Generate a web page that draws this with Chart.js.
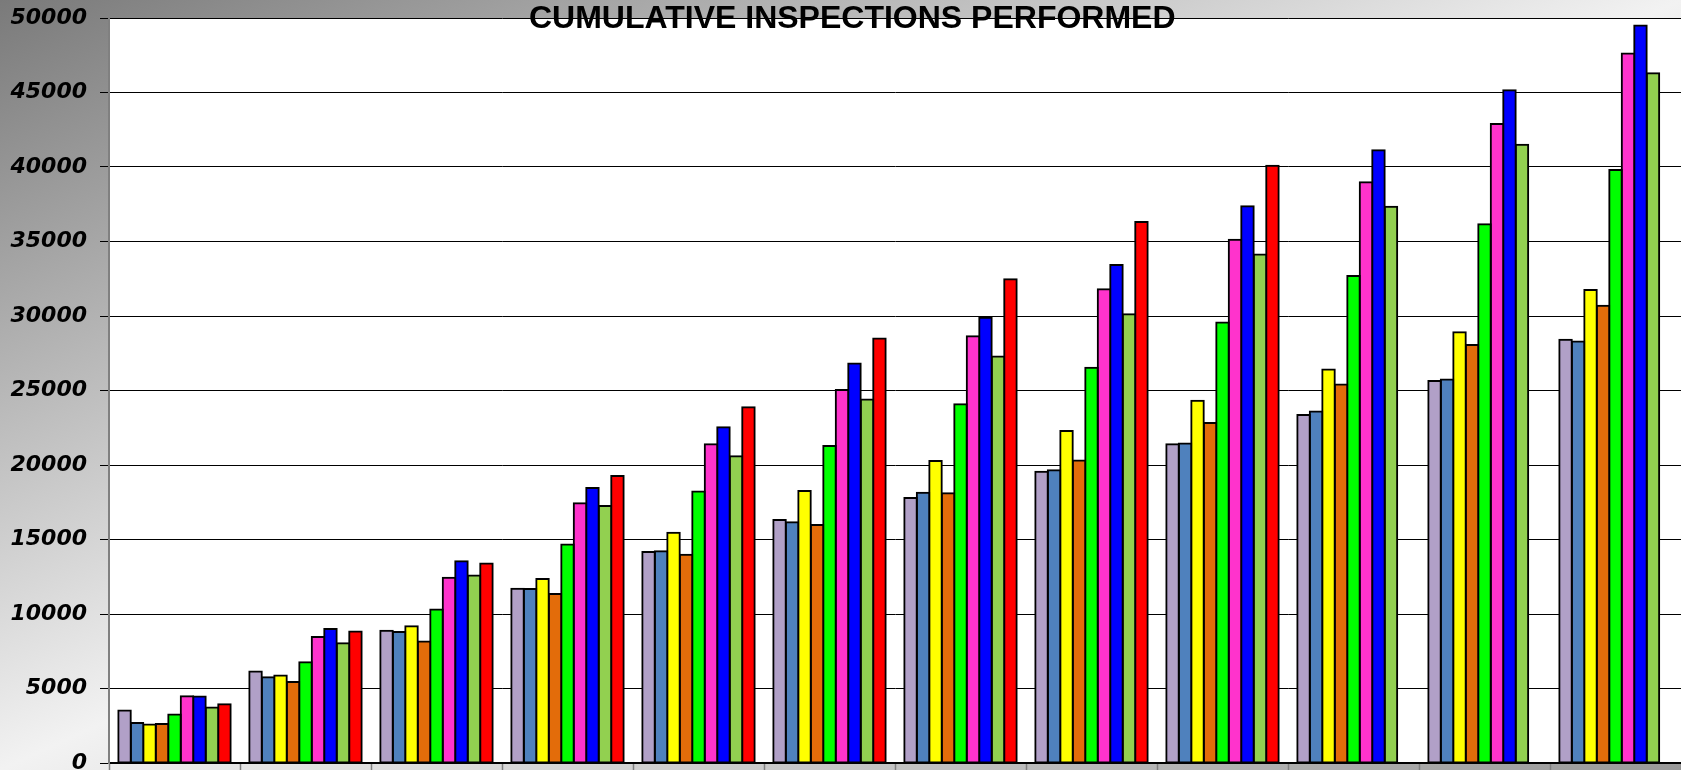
<!DOCTYPE html>
<html>
<head>
<meta charset="utf-8">
<script src="https://cdn.jsdelivr.net/npm/chart.js@4.4.1/dist/chart.umd.min.js"></script>
<style>
html, body { margin: 0; padding: 0; overflow: hidden; width: 1681px; height: 770px; background: #ccc; }
#wrap { position: absolute; left: 0; top: 0; width: 1681px; height: 800px; }
</style>
</head>
<body>
<div id="wrap"><canvas id="c"></canvas></div>
<script>
const chartTitle = 'CUMULATIVE INSPECTIONS PERFORMED';
const categories = ['JUL', 'AUG', 'SEP', 'OCT', 'NOV', 'DEC', 'JAN', 'FEB', 'MAR', 'APR', 'MAY', 'JUN'];
const seriesLabels = ['Series 1', 'Series 2', 'Series 3', 'Series 4', 'Series 5', 'Series 6', 'Series 7', 'Series 8', 'Series 9'];
const seriesColors = ['#B1A0C7', '#4F81BD', '#FFFF00', '#E36C0A', '#00FF00', '#FF33CC', '#0000FF', '#92D050', '#FF0000'];

const series1 = [3520, 6140, 8880, 11700, 14160, 16310, 17790, 19550, 21390, 23350, 25630, 28400];
const series2 = [2690, 5760, 8790, 11680, 14210, 16160, 18140, 19640, 21450, 23590, 25740, 28290];
const series3 = [2580, 5870, 9170, 12350, 15460, 18260, 20270, 22280, 24320, 26410, 28910, 31750];
const series4 = [2620, 5430, 8160, 11340, 13980, 15980, 18100, 20310, 22820, 25400, 28060, 30680];
const series5 = [3250, 6770, 10310, 14660, 18220, 21280, 24070, 26530, 29570, 32690, 36160, 39800];
const series6 = [4480, 8450, 12440, 17430, 21390, 25040, 28640, 31790, 35120, 38980, 42890, 47610];
const series7 = [4470, 8990, 13540, 18460, 22540, 26810, 29890, 33420, 37360, 41120, 45150, 49490];
const series8 = [3720, 8030, 12580, 17250, 20590, 24390, 27290, 30110, 34120, 37340, 41500, 46290];
const series9 = [3950, 8830, 13390, 19270, 23880, 28490, 32460, 36310, 40090, null, null, null];

const yMin = 0;
const yMax = 50000;
const yStep = 5000;

const allSeries = [series1, series2, series3, series4, series5, series6, series7, series8, series9];

const datasets = allSeries.map((vals, i) => ({
  label: seriesLabels[i],
  data: vals,
  backgroundColor: seriesColors[i],
  borderColor: '#000000',
  borderWidth: 2,
  borderSkipped: false,
  inflateAmount: 1,
  categoryPercentage: 0.858,
  barPercentage: 1.0
}));

const bgPlugin = {
  id: 'bgPlugin',
  beforeDraw(chart) {
    const { ctx, chartArea: a } = chart;
    ctx.save();
    const g = ctx.createLinearGradient(0, 0, 583, 1273);
    g.addColorStop(0, '#7a7a7a');
    g.addColorStop(0.5, '#f2f2f2');
    g.addColorStop(1, '#999999');
    ctx.fillStyle = g;
    ctx.fillRect(0, 0, chart.width, chart.height);
    ctx.fillStyle = '#ffffff';
    ctx.fillRect(a.left, a.top, a.right - a.left, a.bottom - a.top);
    ctx.restore();
  }
};

const titlePlugin = {
  id: 'titlePlugin',
  afterDraw(chart) {
    const ctx = chart.ctx;
    ctx.save();
    ctx.font = 'bold 32px "Liberation Sans", Arial, sans-serif';
    ctx.textAlign = 'center';
    ctx.textBaseline = 'alphabetic';
    ctx.fillStyle = '#000000';
    ctx.fillText(chartTitle, chart.width * 0.507, 28);
    ctx.restore();
  }
};

new Chart(document.getElementById('c'), {
  type: 'bar',
  data: { labels: categories, datasets: datasets },
  options: {
    responsive: true,
    maintainAspectRatio: false,
    animation: false,
    layout: { padding: { top: 18, left: 0, right: 0, bottom: 0 } },
    plugins: {
      legend: { display: false },
      title: { display: false },
      tooltip: { enabled: false }
    },
    scales: {
      x: {
        afterFit(scale) {
          scale.height = 37;
          scale.paddingLeft = 0; scale.paddingRight = 0;
          scale.paddingTop = 0; scale.paddingBottom = 0;
        },
        grid: {
          display: true,
          offset: true,
          drawOnChartArea: false,
          drawTicks: true,
          tickLength: 8,
          tickColor: '#808080',
          tickWidth: 1.5
        },
        border: { display: true, color: '#000000', width: 2 },
        ticks: {
          color: '#000000',
          padding: -3,
          font: { family: '"DejaVu Sans", sans-serif', size: 22, weight: 'bold', style: 'italic' }
        }
      },
      y: {
        min: yMin,
        max: yMax,
        afterFit(scale) {
          scale.width = 109;
          scale.paddingTop = 0; scale.paddingBottom = 0;
          scale.paddingLeft = 0; scale.paddingRight = 0;
        },
        grid: {
          color: '#000000',
          lineWidth: 1,
          drawTicks: true,
          tickLength: 9,
          tickColor: '#000000'
        },
        border: { display: true, color: '#808080', width: 2 },
        ticks: {
          stepSize: yStep,
          color: '#000000',
          padding: 13,
          callback: (value) => String(value),
          font: { family: '"DejaVu Sans", sans-serif', size: 22, weight: 'bold', style: 'italic' }
        }
      }
    }
  },
  plugins: [bgPlugin, titlePlugin]
});
</script>
</body>
</html>
